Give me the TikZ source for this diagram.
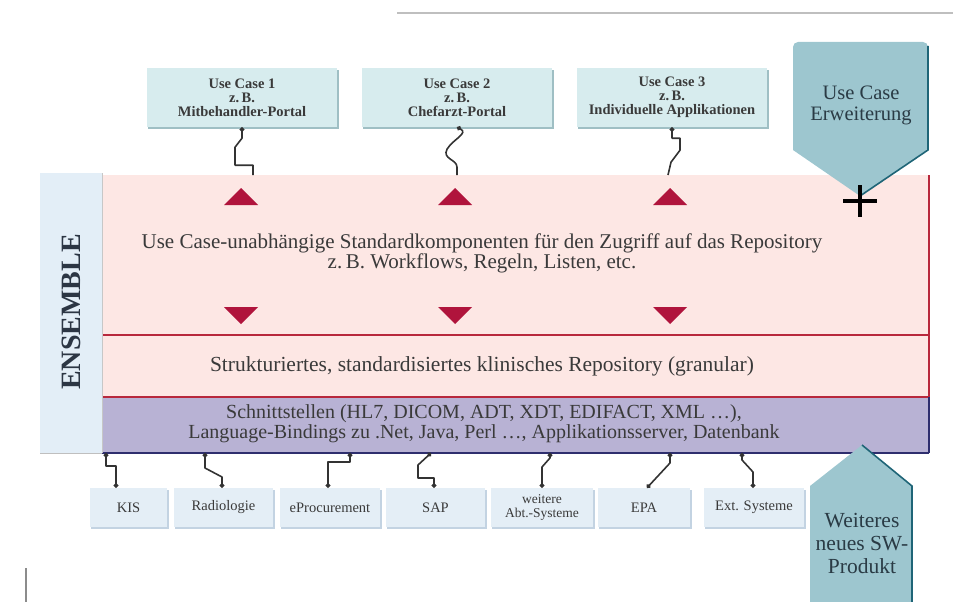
\documentclass[tikz,border=0pt]{standalone}
\usepackage{fontspec}
\setmainfont{Liberation Serif}
\usetikzlibrary{calc,arrows.meta}
\definecolor{ucfill}{HTML}{D7ECEE}
\definecolor{ucshadow}{HTML}{9FBFC4}
\definecolor{erwfill}{HTML}{9DC6CF}
\definecolor{erwdark}{HTML}{1F6577}
\definecolor{erwtext}{HTML}{2A3B45}
\definecolor{pinkfill}{HTML}{FDE7E4}
\definecolor{redline}{HTML}{B8283C}
\definecolor{purplefill}{HTML}{B8B2D4}
\definecolor{navy}{HTML}{2E2E6E}
\definecolor{ensfill}{HTML}{E3EEF7}
\definecolor{enstext}{HTML}{2C3644}
\definecolor{botfill}{HTML}{E4EEF6}
\definecolor{botshadow}{HTML}{C3D3E2}
\definecolor{tricol}{HTML}{B0143C}
\definecolor{txt}{HTML}{3A3A3A}
\begin{document}
\begin{tikzpicture}[x=1pt,y=-1pt,
  ucbox/.style={fill=ucfill, minimum width=190pt, minimum height=59pt, inner sep=0pt,
    align=center, text=txt, font=\fontsize{14.5}{14}\selectfont\bfseries},
  botbox/.style={fill=botfill, minimum width=#1, minimum height=39pt, inner sep=0pt,
    align=center, text=txt, font=\fontsize{14.5}{14}\selectfont},
  botbox/.default=98pt,
  layertext/.style={align=center, text=txt, inner sep=0pt},
  conn/.style={draw=black!80, line width=1.6pt, line join=round},
  dotboth/.style={conn, {Circle[length=4.5pt]}-{Circle[length=4.5pt]}},
  dotstart/.style={conn, {Circle[length=4.5pt]}-},
  uptri/.style={fill=tricol},
]
\useasboundingbox (0,0) rectangle (953,602);

% top grey line
\draw[black!25, line width=2pt] (397,13) -- (953,13);
% bottom-left grey stroke
\draw[black!45, line width=1.6pt] (26,568) -- (26,602);

% ENSEMBLE column and layers
\fill[ensfill] (40,173) rectangle (102,453);
\fill[pinkfill] (102,175) rectangle (929,397);
\fill[purplefill] (102,397) rectangle (929,453);
\draw[redline, line width=1.3pt] (102,335) -- (929,335);
\draw[redline, line width=1.6pt] (102,397) -- (929,397);
\draw[redline, line width=1.3pt] (929,175) -- (929,397);
\draw[navy, line width=1.3pt] (929,397) -- (929,453);
\draw[navy, line width=1.6pt] (102,453) -- (929,453);
\draw[black!25, line width=1pt] (40,453) -- (102,453);
\draw[black!22, line width=0.8pt] (102,173) -- (102,453);

\node[rotate=90, text=enstext, font=\fontsize{28}{30}\selectfont\bfseries] (ens) at (71,312) {ENSEMBLE};

% layer texts
\node[layertext, font=\fontsize{21}{20}\selectfont] (comp) at (482,253)
  {Use Case-unabhängige Standardkomponenten für den Zugriff auf das Repository\\
   z.\,B. Workflows, Regeln, Listen, etc.};
\node[layertext, font=\fontsize{21.5}{20}\selectfont] (repo) at (482,366)
  {Strukturiertes, standardisiertes klinisches Repository (granular)};
\node[layertext, font=\fontsize{20}{20}\selectfont] (ifc) at (484,424)
  {Schnittstellen (HL7, DICOM, ADT, XDT, EDIFACT, XML \dots),\\
   Language-Bindings zu .Net, Java, Perl \dots, Applikationsserver, Datenbank};

% triangles
\foreach \x/\n in {241/1,455/2,670/3}{
  \fill[uptri] (\x-17,205) -- (\x+17,205) -- (\x,188) -- cycle;
  \fill[uptri] (\x-17,307) -- (\x+17,307) -- (\x,324) -- cycle;
}

% use case boxes (with shadow)
\foreach \cx in {242,457,672}{
  \fill[ucshadow] (\cx-94,70) rectangle (\cx+96.5,128.5);
}
\node[ucbox] (ucA) at (242,97.5) {Use Case 1\\z.\,B.\\Mitbehandler-Portal};
\node[ucbox] (ucB) at (457,97.5) {Use Case 2\\z.\,B.\\Chefarzt-Portal};
\node[ucbox] (ucC) at (672,97.5) {Use Case 3\\z.\,B.\\Individuelle Applikationen};

% connectors from use cases to the component layer
\coordinate (topA) at (253,175);
\coordinate (topB) at (457,175);
\coordinate (topC) at (668,175);
\draw[dotstart] (ucA.south) -- ++(0,11) -- ++(-7,9) -- ++(0,18) -| (topA);
\draw[dotstart] (ucB.south) .. controls ($(ucB.south)+(12,6)$) and ($(ucB.south)+(-4,12)$)
  .. ($(ucB.south)+(-10,22)$) .. controls ($(ucB.south)+(-15,32)$) and ($(ucB.south)+(0,32)$)
  .. ($(ucB.south)+(0,40)$) -- (topB);
\draw[dotstart] (ucC.south) -- ++(0,11) -- ++(8,0) -- ++(0,12) -- ++(-9,12) -- (topC);

% Use Case Erweiterung pentagon
\fill[erwfill, rounded corners=5pt] (793,150) -- (793,42) -- (928,42) -- (928,150) [sharp corners] -- (860,196) -- cycle;
\draw[erwdark, line width=1.6pt] (928,46) -- (928,150) -- (860,196);
\node[text=erwtext, align=center, font=\fontsize{20.5}{21}\selectfont] (erw) at (861,105) {Use Case\\Erweiterung};
\draw[black, line width=4.5pt] (843,201) -- (877,201);
\draw[black, line width=4.5pt] (860,185) -- (860,217);

% bottom boxes
\foreach \l/\r in {90/167,174/273,280/380,386/485,491/593,598/690,704/804}{
  \fill[botshadow] (\l+1,490) rectangle (\r+1.5,528.5);
}
\node[botbox=77pt] (k1) at (128.5,507.5) {KIS};
\node[botbox=99pt] (k2) at (223.5,507.5) {Radiologie};
\node[botbox=100pt] (k3) at (330,507.5) {eProcurement};
\node[botbox=99pt] (k4) at (435.5,507.5) {SAP};
\node[botbox=102pt, font=\fontsize{13.5}{13.5}\selectfont] (k5) at (542,507.5) {weitere\\Abt.-Systeme};
\node[botbox=92pt] (k6) at (644,507.5) {EPA};
\node[botbox=100pt] (k7) at (754,507.5) {Ext. Systeme};

% connectors from interface layer to systems
\coordinate (s1) at (106,453);
\coordinate (s2) at (205,453);
\coordinate (s3) at (350,453);
\coordinate (s4) at (431,453);
\coordinate (s5) at (550,453);
\coordinate (s6) at (670,453);
\coordinate (s7) at (742,453);
\draw[dotboth] (s1) -- ++(0,13) -- ++(10,0) -- ($(k1.north)+(-12.5,0)$);
\draw[dotboth] (s2) -- ++(0,15) -- ++(17,9) -- ($(k2.north)+(-1.5,0)$);
\draw[dotboth] (s3) -- ++(0,9) -- ++(-22,0) -- ($(k3.north)+(-2,0)$);
\draw[dotboth] (s4) -- ++(-13,12) -- ++(0,13) -- ++(16,0) -- ($(k4.north)+(-1.5,0)$);
\draw[dotboth] (s5) -- ++(0,5) -- ++(-8,9) -- ($(k5.north)+(0,0)$);
\draw[dotboth] (s6) -- ++(0,10) -- ($(k6.north)+(3,0)$);
\draw[dotboth] (s7) -- ++(0,7) -- ++(11,12) -- ($(k7.north)+(-1,0)$);

% Weiteres neues SW-Produkt pentagon
\fill[erwfill] (810,602) -- (810,486) -- (862,445) -- (912,486) -- (912,602) -- cycle;
\draw[erwdark, line width=1.6pt] (862,445) -- (912,486) -- (912,602);
\node[text=erwtext, align=center, font=\fontsize{21.5}{23}\selectfont] (sw) at (862,543) {Weiteres\\neues SW-\\Produkt};
\end{tikzpicture}
\end{document}
